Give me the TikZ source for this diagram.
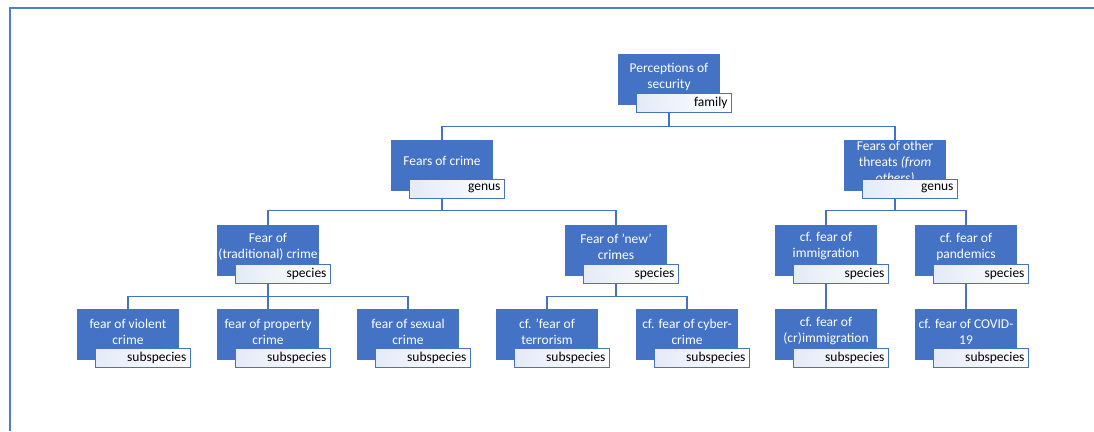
\documentclass[tikz,border=0pt]{standalone}
\usepackage{fontspec}
\setmainfont{Carlito}
\usepackage{tikz}
\usetikzlibrary{positioning,calc,backgrounds}
\usepackage{xcolor}
\definecolor{officeblue}{RGB}{68,114,196}
\definecolor{frameblue}{RGB}{80,125,210}
\definecolor{tagtint}{RGB}{228,234,247}

\begin{document}
\begin{tikzpicture}[x=1pt,y=1pt,
    taxon/.style={fill=officeblue, minimum width=102pt, minimum height=51pt, inner sep=0pt, anchor=north},
    taxtext/.style={text=white, align=center, font=\fontsize{13.5}{16}\selectfont, inner sep=0pt},
    tagbox/.style={draw=officeblue, line width=1.4pt, left color=tagtint, right color=white,
        minimum width=95pt, minimum height=19pt, text width=87pt, align=right, inner xsep=4pt, inner ysep=0pt,
        font=\fontsize{13.5}{16}\selectfont, anchor=south east, xshift=12pt, yshift=-7.5pt},
    conn/.style={officeblue, line width=1.6pt}]
            \useasboundingbox (0,0) rectangle (1094,-431);
            \draw[frameblue, line width=2.2pt] (10,-431) -- (10,-8) -- (1094,-8);
            
            % family
            \node[taxon] (fam) at (669,-54) {};
            \node[taxtext] (famtxt) at (669,-76.5) {Perceptions of\\security};
            \node[tagbox] (famtag) at (fam.south east) {family};
            
            % genus
            \node[taxon] (crime) at (442,-140) {};
            \node[taxtext] (crimetxt) at (442,-161) {Fears of crime};
            \node[tagbox] (crimetag) at (crime.south east) {genus};
            \node[taxon] (other) at (895,-140) {};
            \node[taxtext] (othertxt) at (895,-162.5) {Fears of other\\threats \emph{(from}\\\emph{others)}};
            \node[tagbox] (othertag) at (other.south east) {genus};
            
            % species
            \node[taxon] (trad) at (268,-225) {};
            \node[taxtext] (tradtxt) at (268,-246.5) {Fear of\\(traditional) crime};
            \node[tagbox] (tradtag) at (trad.south east) {species};
            \node[taxon] (new) at (616,-225) {};
            \node[taxtext] (newtxt) at (616,-246.5) {Fear of 'new'\\crimes};
            \node[tagbox] (newtag) at (new.south east) {species};
            \node[taxon] (immi) at (826,-225) {};
            \node[taxtext] (immitxt) at (826,-246.5) {cf. fear of\\immigration};
            \node[tagbox] (immitag) at (immi.south east) {species};
            \node[taxon] (pand) at (966,-225) {};
            \node[taxtext] (pandtxt) at (966,-246.5) {cf. fear of\\pandemics};
            \node[tagbox] (pandtag) at (pand.south east) {species};
            
            % subspecies
            \node[taxon] (viol) at (128,-309) {};
            \node[taxtext] (violtxt) at (128,-331.5) {fear of violent\\crime};
            \node[tagbox] (violtag) at (viol.south east) {subspecies};
            \node[taxon] (prop) at (268,-309) {};
            \node[taxtext] (proptxt) at (268,-331.5) {fear of property\\crime};
            \node[tagbox] (proptag) at (prop.south east) {subspecies};
            \node[taxon] (sex) at (408,-309) {};
            \node[taxtext] (sextxt) at (408,-331.5) {fear of sexual\\crime};
            \node[tagbox] (sextag) at (sex.south east) {subspecies};
            \node[taxon] (terr) at (547,-309) {};
            \node[taxtext] (terrtxt) at (547,-331.5) {cf. 'fear of\\terrorism};
            \node[tagbox] (terrtag) at (terr.south east) {subspecies};
            \node[taxon] (cyber) at (687,-309) {};
            \node[taxtext] (cybertxt) at (687,-331.5) {cf. fear of cyber-\\crime};
            \node[tagbox] (cybertag) at (cyber.south east) {subspecies};
            \node[taxon] (crimm) at (826,-309) {};
            \node[taxtext] (crimmtxt) at (826,-331.5) {cf. fear of\\(cr)immigration};
            \node[tagbox] (crimmtag) at (crimm.south east) {subspecies};
            \node[taxon] (covid) at (966,-309) {};
            \node[taxtext] (covidtxt) at (966,-331.5) {cf. fear of COVID-\\19};
            \node[tagbox] (covidtag) at (covid.south east) {subspecies};
            
            % Connectors
            \begin{scope}[on background layer]
                \draw[conn] (fam.south) -- ++(0,-21) -| (crime.north);
                \draw[conn] (fam.south) -- ++(0,-21) -| (other.north);
                \draw[conn] (crime.south) -- ++(0,-19) -| (trad.north);
                \draw[conn] (crime.south) -- ++(0,-19) -| (new.north);
                \draw[conn] (other.south) -- ++(0,-19) -| (immi.north);
                \draw[conn] (other.south) -- ++(0,-19) -| (pand.north);
                \draw[conn] (trad.south) -- ++(0,-20) -| (viol.north);
                \draw[conn] (trad.south) -- (prop.north);
                \draw[conn] (trad.south) -- ++(0,-20) -| (sex.north);
                \draw[conn] (new.south) -- ++(0,-20) -| (terr.north);
                \draw[conn] (new.south) -- ++(0,-20) -| (cyber.north);
                \draw[conn] (immi.south) -- (crimm.north);
                \draw[conn] (pand.south) -- (covid.north);
            \end{scope}
        \end{tikzpicture}
\end{document}
